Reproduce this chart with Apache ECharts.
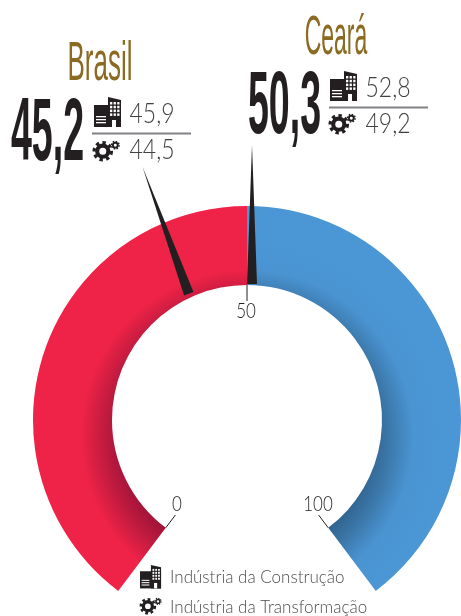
<!DOCTYPE html>
<html>
<head>
<meta charset="utf-8">
<style>html,body{margin:0;background:#fff}#chart{width:461px;height:616px}</style>
<script src="https://cdn.jsdelivr.net/npm/echarts@6/dist/echarts.min.js"></script>
</head>
<body>
<div id="chart"></div>
<script>
// dados
var regions = ['Brasil', 'Ceará'];
var totals = ['45,2', '50,3'];
var construcao = ['45,9', '52,8'];
var transformacao = ['44,5', '49,2'];
// posicao dos ponteiros na escala 0-100, como aparecem na figura
var needleValues = [43, 50];
var scaleTicks = [0, 50, 100];
var legendItems = ['Indústria da Construção', 'Indústria da Transformação'];

var INK = '#231f20', GOLD = '#8b6a22', GREY = '#4d4d4f';
var cx = 247, cy = 420;
var chart = echarts.init(document.getElementById('chart'));

function shade(stops) {
    return new echarts.graphic.RadialGradient(cx, 436, 200, stops, true);
}
var redFill = shade([
    { offset: 0.6, color: '#9c1238' }, { offset: 0.7, color: '#bb1a3e' },
    { offset: 0.83, color: '#ee2347' }, { offset: 1, color: '#ee2347' }
]);
var blueFill = shade([
    { offset: 0.6, color: '#2f618c' }, { offset: 0.7, color: '#3a75a6' },
    { offset: 0.83, color: '#4a94d2' }, { offset: 1, color: '#4b96d4' }
]);

function needleSeries(value, offsetX, offsetY, len) {
    return {
        type: 'gauge', center: [cx, cy], radius: 214, min: 0, max: 100,
        startAngle: 233, endAngle: -53, silent: true,
        axisLine: { show: false }, axisTick: { show: false }, splitLine: { show: false }, axisLabel: { show: false },
        pointer: {
            icon: 'path://M0 138L5 0L10 138Z', length: len, width: 10, keepAspect: false,
            offsetCenter: [offsetX, offsetY], itemStyle: { color: INK }
        },
        anchor: { show: false }, title: { show: false }, detail: { show: false },
        data: [{ value: value }]
    };
}

// icones
function buildingIcon(x, y, s) {
    var r = function (a, b, w, h, fill) {
        return { type: 'rect', x: x, y: y, scaleX: s, scaleY: s, shape: { x: a, y: b, width: w, height: h }, style: { fill: fill || INK } };
    };
    var out = [r(0, 8, 27, 22)];
    out.push({ type: 'polygon', x: x, y: y, scaleX: s, scaleY: s, shape: { points: [[14, 0], [27, 3], [27, 30], [14, 30]] }, style: { fill: INK } });
    for (var i = 0; i < 3; i++) {
        for (var j = 0; j < 4; j++) {
            out.push(r(16 + i * 3.6, 5 + j * 3.8, 2.3, 2.5, '#fff'));
        }
        out.push(r(2, 19 + i * 3, 10, 1.3, '#fff'));
    }
    out.push(r(18, 23, 4, 7, '#fff'));
    return out;
}
function gearIcon(x, y, s) {
    function wheel(a, b, rad, lw, dash) {
        return [
            { type: 'circle', x: x, y: y, scaleX: s, scaleY: s, shape: { cx: a, cy: b, r: rad }, style: { fill: 'none', stroke: INK, lineWidth: lw } },
            { type: 'circle', x: x, y: y, scaleX: s, scaleY: s, shape: { cx: a, cy: b, r: rad + lw * 0.75 }, style: { fill: 'none', stroke: INK, lineWidth: lw * 0.8, lineDash: [dash, dash] } }
        ];
    }
    return wheel(10.5, 11, 6, 4.4, 3.6).concat(wheel(24, 4.5, 2.6, 2, 1.6));
}
function label(text, x, y, font, color, sx, sy, align) {
    return {
        type: 'text', x: x, y: y, scaleX: sx || 1, scaleY: sy || 1,
        style: { text: text, font: font, fill: color, align: align || 'center', verticalAlign: 'middle' }
    };
}
var NARROW = '"Liberation Sans Narrow", "Liberation Sans"';
var LIGHT = '300 25px Lato';

var graphics = [];
// posicao do bloco de cada regiao
var blocks = [
    { title: [100, 65], titleScale: 0.52, total: [47.5, 135], icon: [94, 97], gear: [93, 141], line: [92, 133.5], upper: [152, 114], lower: [152, 150] },
    { title: [336, 39], titleScale: 0.46, total: [284.5, 108], icon: [330, 71], gear: [329, 114], line: [329, 107.5], upper: [388, 88], lower: [388, 124] }
];
regions.forEach(function (name, i) {
    var b = blocks[i];
    graphics.push(label(name, b.title[0], b.title[1], '50px ' + NARROW, GOLD, b.titleScale, 1.12));
    graphics.push(label(totals[i], b.total[0], b.total[1], 'bold 80px ' + NARROW, INK, 0.47, 1.12));
    graphics.push({ type: 'line', shape: { x1: b.line[0], y1: b.line[1], x2: b.line[0] + 99, y2: b.line[1] }, style: { stroke: '#808285', lineWidth: 2 } });
    graphics.push(label(construcao[i], b.upper[0], b.upper[1], LIGHT, '#414042', 0.92, 1.08));
    graphics.push(label(transformacao[i], b.lower[0], b.lower[1], LIGHT, '#414042', 0.92, 1.08));
    graphics = graphics.concat(buildingIcon(b.icon[0], b.icon[1], 1), gearIcon(b.gear[0], b.gear[1], 0.93));
});
graphics = graphics.concat(buildingIcon(140, 565, 0.78), gearIcon(140, 598, 0.75));
graphics.push(label(legendItems[0], 170, 578, '300 17px Lato', GREY, 1, 1, 'left'));
graphics.push(label(legendItems[1], 170, 608, '300 17px Lato', GREY, 1, 1, 'left'));
// rotulos da escala
var tickSpots = [[177, 504], [246, 311], [318, 504]];
scaleTicks.forEach(function (t, i) {
    graphics.push(label(String(t), tickSpots[i][0], tickSpots[i][1], '300 20px Lato', INK, 0.85, 1.05));
});

chart.setOption({
    animation: false,
    backgroundColor: '#fff',
    graphic: graphics,
    series: [{
        type: 'gauge', center: [cx, cy], radius: 214, min: scaleTicks[0], max: scaleTicks[2],
        startAngle: 233, endAngle: -53, splitNumber: scaleTicks.length - 1, silent: true,
        axisLine: { lineStyle: { width: 79, color: [[0.5, redFill], [1, blueFill]] } },
        axisTick: { show: false },
        splitLine: { length: 16, distance: 0, lineStyle: { color: INK, width: 1 } },
        axisLabel: { show: false },
        pointer: { show: false }, anchor: { show: false }, title: { show: false }, detail: { show: false },
        data: [{ value: 50 }]
    }, needleSeries(needleValues[0], -11.5, -138.5, 135), needleSeries(needleValues[1], 5, -136, 139)]
});
</script>
</body>
</html>
